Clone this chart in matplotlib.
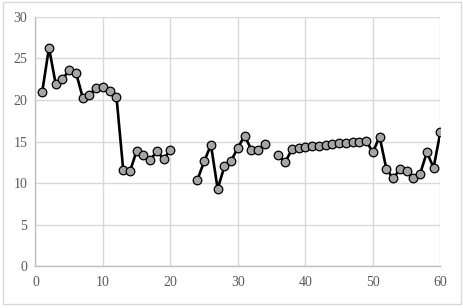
import numpy as np
import matplotlib.pyplot as plt
from matplotlib.patches import Rectangle

# series values (NaN = gap)
x = list(range(1, 61))
y = [21.0, 26.3, 21.9, 22.5, 23.6, 23.3, 20.3, 20.6, 21.5, 21.6,
     21.1, 20.4, 11.6, 11.4, 13.9, 13.4, 12.8, 13.8, 12.9, 14.0,
     np.nan, np.nan, np.nan, 10.4, 12.6, 14.6, 9.3, 12.0, 12.7, 14.25,
     15.7, 14.0, 14.0, 14.7, np.nan, 13.4, 12.5, 14.05, 14.2, 14.3,
     14.45, 14.5, 14.6, 14.7, 14.8, 14.85, 14.9, 15.0, 15.1, 13.7,
     15.6, 11.7, 10.55, 11.65, 11.5, 10.6, 11.1, 13.7, 11.85, 16.1]
xticks = [0, 10, 20, 30, 40, 50, 60]
yticks = [0, 5, 10, 15, 20, 25, 30]

plt.rcParams['font.family'] = ['Liberation Serif', 'DejaVu Serif']

fig = plt.figure(figsize=(4.64, 3.08), dpi=100)
ax = fig.add_axes([0.0765, 0.136, 0.8725, 0.809])

ax.plot(x, y, color='black', linewidth=1.9, marker='o', markersize=6.2,
        markerfacecolor='#a5a5a5', markeredgecolor='black', markeredgewidth=0.9,
        zorder=3)

ax.set_xlim(0, 60)
ax.set_ylim(0, 30)
ax.set_xticks(xticks)
ax.set_yticks(yticks)
ax.grid(True, color='#d9d9d9', linewidth=1)
ax.set_axisbelow(True)
for s in ['top', 'right']:
    ax.spines[s].set_visible(False)
for s in ['left', 'bottom']:
    ax.spines[s].set_color('#bfbfbf')
    ax.spines[s].set_linewidth(1)
ax.tick_params(length=0, labelsize=10, labelcolor='#595959')
ax.tick_params(axis='x', pad=7)
ax.tick_params(axis='y', pad=6)

# chart border
fig.patches.append(Rectangle((0.006, 0.012), 0.988, 0.982, transform=fig.transFigure,
                             fill=False, edgecolor='#d9d9d9', linewidth=1))

fig.savefig('out.png', dpi=100)
